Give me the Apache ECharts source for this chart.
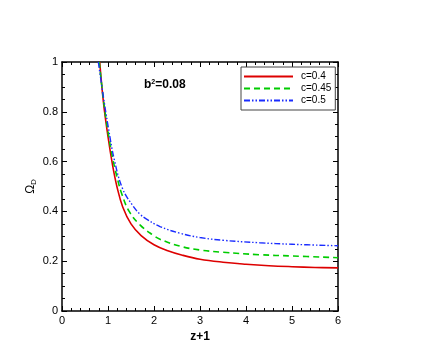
<!DOCTYPE html>
<html>
<head>
<meta charset="utf-8">
<script src="https://cdn.jsdelivr.net/npm/echarts@6/dist/echarts.min.js"></script>
<style>
  html, body { margin: 0; padding: 0; background: #fff; }
  #chart-container { width: 436px; height: 357px; }
</style>
</head>
<body>
<div id="chart-container"></div>
<script>
var dom = document.getElementById('chart-container');
var myChart = echarts.init(dom, null, { renderer: 'canvas' });

// values: [z+1, Omega_D]
var c04 = [[0.82, 1.0], [0.9, 0.84], [1.0, 0.70], [1.1, 0.585], [1.2, 0.495], [1.32, 0.418], [1.5, 0.35],
  [1.72, 0.303], [2.0, 0.266], [2.3, 0.242], [2.6, 0.225], [3.0, 0.208], [3.5, 0.196], [4.0, 0.188],
  [4.5, 0.182], [5.0, 0.178], [5.5, 0.175], [6.0, 0.173]];
var c045 = [[0.81, 1.0], [0.9, 0.85], [1.0, 0.72], [1.1, 0.615], [1.2, 0.535], [1.3, 0.47], [1.46, 0.40],
  [1.7, 0.345], [2.0, 0.302], [2.13, 0.288], [2.57, 0.26], [3.0, 0.245], [3.5, 0.236], [4.3, 0.226],
  [5.0, 0.221], [6.0, 0.214]];
var c05 = [[0.79, 1.0], [0.9, 0.86], [1.0, 0.745], [1.14, 0.605], [1.32, 0.49], [1.55, 0.42], [1.7, 0.388],
  [1.83, 0.37], [2.13, 0.339], [2.57, 0.312], [3.0, 0.295], [3.5, 0.284], [4.3, 0.274], [5.0, 0.268],
  [6.0, 0.262]];

var xTicks = { min: 0, max: 6, interval: 1 };
var yTicks = { min: 0, max: 1, interval: 0.2 };

var font = 'Liberation Sans, Arial, sans-serif';

function mkAxis(lim, pos, showLabel, extra) {
  var ax = {
    type: 'value',
    position: pos,
    min: lim.min,
    max: lim.max,
    interval: lim.interval,
    axisLine: { show: true, onZero: false, lineStyle: { color: '#000', width: 1.5 } },
    axisTick: { show: true, inside: true, length: 5, lineStyle: { color: '#000', width: 1 } },
    minorTick: { show: true, splitNumber: pos === 'left' || pos === 'right' ? 4 : 5, length: 3, lineStyle: { color: '#000', width: 1 } },
    splitLine: { show: false },
    axisLabel: { show: showLabel, color: '#000', fontSize: 11, fontFamily: font, margin: 4 }
  };
  for (var k in extra) ax[k] = extra[k];
  return ax;
}

var option = {
  animation: false,
  backgroundColor: '#fff',
  grid: { left: 62, right: 98, top: 62, bottom: 46 },
  xAxis: [
    mkAxis(xTicks, 'bottom', true, {
      name: 'z+1', nameLocation: 'middle', nameGap: 16,
      nameTextStyle: { color: '#000', fontSize: 12, fontWeight: 'bold', fontFamily: font }
    }),
    mkAxis(xTicks, 'top', false, {})
  ],
  yAxis: [
    mkAxis(yTicks, 'left', true, {
      name: '{a|Ω}{s|D}', nameLocation: 'middle', nameGap: 24, nameMoveOverlap: false,
      nameTextStyle: {
        color: '#000', fontFamily: font,
        rich: {
          a: { fontSize: 12, fontFamily: font, color: '#000' },
          s: { fontSize: 8, fontFamily: font, color: '#000', verticalAlign: 'bottom', padding: [6, 0, 0, 0] }
        }
      }
    }),
    mkAxis(yTicks, 'right', false, {})
  ],
  legend: {
    orient: 'vertical',
    left: 241,
    top: 67,
    padding: [4, 4, 4, 2],
    itemGap: 1,
    itemWidth: 49,
    itemHeight: 10,
    backgroundColor: '#fff',
    borderColor: '#444',
    borderWidth: 1,
    borderRadius: 0,
    itemStyle: { opacity: 0 },
    textStyle: { color: '#000', fontSize: 10, fontFamily: font, lineHeight: 11, padding: [0, 0, 0, 3] },
    data: ['c=0.4', 'c=0.45', 'c=0.5']
  },
  graphic: [{
    type: 'text',
    left: 144,
    top: 79,
    style: {
      text: '{b|b}{s|2}{b|=0.08}',
      rich: {
        b: { fontSize: 12, fontWeight: 'bold', fontFamily: font, fill: '#000' },
        s: { fontSize: 7, fontWeight: 'bold', fontFamily: font, fill: '#000', verticalAlign: 'top', padding: [0, 0, 5, 0] }
      }
    }
  }],
  series: [
    {
      name: 'c=0.4', type: 'line', data: c04, smooth: 0.4, symbol: 'none', clip: true,
      lineStyle: { color: '#dd0000', width: 1.6 }, itemStyle: { color: '#dd0000' }
    },
    {
      name: 'c=0.45', type: 'line', data: c045, smooth: 0.4, symbol: 'none', clip: true,
      lineStyle: { color: '#00cc00', width: 1.6, type: [6, 4] }, itemStyle: { color: '#00cc00' }
    },
    {
      name: 'c=0.5', type: 'line', data: c05, smooth: 0.4, symbol: 'none', clip: true,
      lineStyle: { color: '#1a2cff', width: 1.4, type: [6, 2, 1.5, 2, 1.5, 2] }, itemStyle: { color: '#1a2cff' }
    }
  ]
};

myChart.setOption(option);
window.addEventListener('resize', myChart.resize);
</script>
</body>
</html>
